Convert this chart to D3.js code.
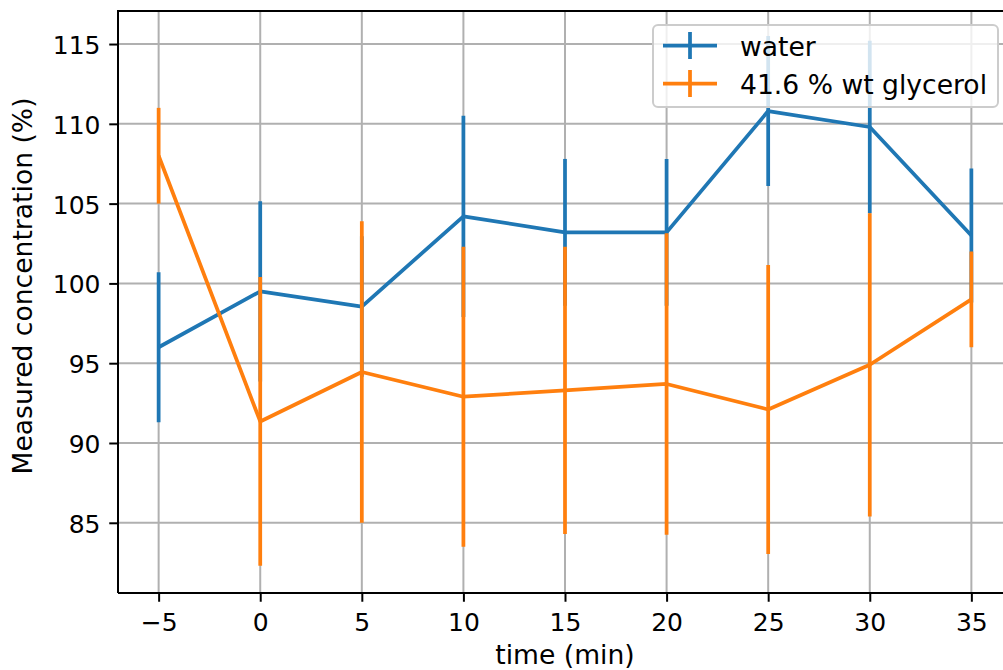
<!DOCTYPE html>
<meta charset="utf-8">
<style>
  body { margin: 0; background: #fff; }
  text { font-family: "DejaVu Sans", sans-serif; }
</style>

<!-- Load d3.js -->
<script src="https://d3js.org/d3.v7.min.js"></script>

<!-- Create a div where the graph will take place -->
<div id="my_dataviz"></div>

<script>

// data
var times = [-5, 0, 5, 10, 15, 20, 25, 30, 35];
var waterMean = [96.0, 99.5, 98.55, 104.2, 103.2, 103.2, 110.8, 109.8, 103.0];
var waterErr = [4.7, 5.65, 4.4, 6.3, 4.6, 4.6, 4.7, 5.4, 4.2];
var glycMean = [108.0, 91.35, 94.45, 92.9, 93.3, 93.7, 92.1, 94.9, 99.0];
var glycErr = [3.0, 9.05, 9.45, 9.4, 9.0, 9.45, 9.05, 9.5, 3.0];

var xTicks = [-5, 0, 5, 10, 15, 20, 25, 30, 35];
var xTickLabels = ["\u22125", "0", "5", "10", "15", "20", "25", "30", "35"];
var yTicks = [85, 90, 95, 100, 105, 110, 115];
var seriesNames = ["water", "41.6 % wt glycerol"];
var seriesColors = ["#1f77b4", "#ff7f0e"];

// set the dimensions and margins of the graph
var margin = {top: 11, right: -9, bottom: 77, left: 118},
    width = 1003 - margin.left - margin.right,
    height = 670 - margin.top - margin.bottom;

var fs = 25;    // tick labels
var fsL = 26.6; // axis labels and legend

var svg = d3.select("#my_dataviz")
  .append("svg")
    .attr("width", 1003)
    .attr("height", 670)
  .append("g")
    .attr("transform", "translate(" + margin.left + "," + margin.top + ")");

var x = d3.scaleLinear()
  .domain([-7, 37])
  .range([0, width]);

var y = d3.scaleLinear()
  .domain([80.6, 117.07])
  .range([height, 0]);

// grid
svg.append("g")
  .selectAll("line.vgrid")
  .data(xTicks)
  .enter().append("line")
    .attr("x1", function(d) { return x(d); })
    .attr("x2", function(d) { return x(d); })
    .attr("y1", 0)
    .attr("y2", height)
    .attr("stroke", "#b0b0b0")
    .attr("stroke-width", 2);

svg.append("g")
  .selectAll("line.hgrid")
  .data(yTicks)
  .enter().append("line")
    .attr("x1", 0)
    .attr("x2", width)
    .attr("y1", function(d) { return y(d); })
    .attr("y2", function(d) { return y(d); })
    .attr("stroke", "#b0b0b0")
    .attr("stroke-width", 2);

// series: error bars then line
var series = [
  {name: seriesNames[0], color: seriesColors[0], mean: waterMean, err: waterErr},
  {name: seriesNames[1], color: seriesColors[1], mean: glycMean, err: glycErr}
];

series.forEach(function(s) {
  var pts = times.map(function(t, i) { return {x: t, y: s.mean[i], e: s.err[i]}; });

  svg.append("g")
    .selectAll("line")
    .data(pts)
    .enter().append("line")
      .attr("x1", function(d) { return x(d.x); })
      .attr("x2", function(d) { return x(d.x); })
      .attr("y1", function(d) { return y(d.y - d.e); })
      .attr("y2", function(d) { return y(d.y + d.e); })
      .attr("stroke", s.color)
      .attr("stroke-width", 3.75);

  svg.append("path")
    .datum(pts)
    .attr("fill", "none")
    .attr("stroke", s.color)
    .attr("stroke-width", 3.75)
    .attr("stroke-linejoin", "round")
    .attr("d", d3.line()
      .x(function(d) { return x(d.x); })
      .y(function(d) { return y(d.y); })
    );
});

// X axis
var xAxis = svg.append("g")
  .attr("transform", "translate(0," + height + ")")
  .call(d3.axisBottom(x)
    .tickValues(xTicks)
    .tickFormat(function(d, i) { return xTickLabels[i]; })
    .tickSize(8.75)
    .tickPadding(8.75));
xAxis.select(".domain").remove();
xAxis.selectAll("line").attr("stroke", "#000").attr("stroke-width", 2);
xAxis.selectAll("text")
  .attr("fill", "#000")
  .style("font-size", fs + "px")
  .attr("dy", null)
  .attr("y", 37.5);

// Y axis
var yAxis = svg.append("g")
  .call(d3.axisLeft(y)
    .tickValues(yTicks)
    .tickSize(8.75)
    .tickPadding(8.75));
yAxis.select(".domain").remove();
yAxis.selectAll("line").attr("stroke", "#000").attr("stroke-width", 2);
yAxis.selectAll("text")
  .attr("fill", "#000")
  .style("font-size", fs + "px")
  .attr("dy", "0.38em");

// spines (right one falls outside the picture)
svg.append("path")
  .attr("d", "M0," + height + "V0H" + width)
  .attr("fill", "none")
  .attr("stroke", "#000")
  .attr("stroke-width", 2);
svg.append("line")
  .attr("x1", 0).attr("x2", width)
  .attr("y1", height).attr("y2", height)
  .attr("stroke", "#000")
  .attr("stroke-width", 2);

// axis labels
svg.append("text")
  .attr("x", x(15))
  .attr("y", height + 71)
  .attr("text-anchor", "middle")
  .style("font-size", fsL + "px")
  .text("time (min)");

svg.append("text")
  .attr("transform", "rotate(-90)")
  .attr("x", -(286 - margin.top))
  .attr("y", -86)
  .attr("text-anchor", "middle")
  .style("font-size", fsL + "px")
  .text("Measured concentration (%)");

// legend
var legend = svg.append("g")
  .attr("transform", "translate(" + (653 - margin.left) + "," + (25 - margin.top) + ")");

legend.append("rect")
  .attr("width", 345)
  .attr("height", 82)
  .attr("rx", 5)
  .attr("fill", "#fff")
  .attr("fill-opacity", 0.8)
  .attr("stroke", "#cccccc")
  .attr("stroke-width", 2);

var item = legend.selectAll("g.item")
  .data(series)
  .enter().append("g")
    .attr("transform", function(d, i) { return "translate(0," + (20.5 + i * 38) + ")"; });

item.append("line")
  .attr("x1", 10).attr("x2", 64)
  .attr("y1", 0).attr("y2", 0)
  .attr("stroke", function(d) { return d.color; })
  .attr("stroke-width", 3.75);

item.append("line")
  .attr("x1", 37).attr("x2", 37)
  .attr("y1", -13.5).attr("y2", 13.5)
  .attr("stroke", function(d) { return d.color; })
  .attr("stroke-width", 3.75);

item.append("text")
  .attr("x", 87)
  .attr("y", 10)
  .style("font-size", fsL + "px")
  .attr("fill", "#000")
  .text(function(d) { return d.name; });

</script>
